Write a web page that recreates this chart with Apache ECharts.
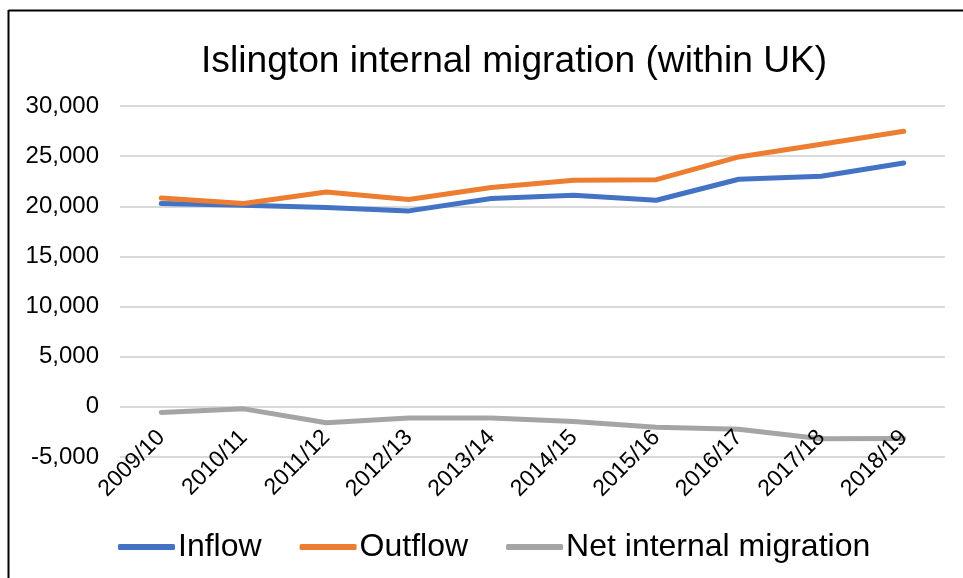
<!DOCTYPE html>
<html>
<head>
<meta charset="utf-8">
<script src="https://cdn.jsdelivr.net/npm/echarts@6/dist/echarts.min.js"></script>
<style>html,body{margin:0;padding:0;background:#fff;}#c{width:963px;height:578px;}</style>
</head>
<body>
<div id="c"></div>
<script>
var categories = ['2009/10','2010/11','2011/12','2012/13','2013/14','2014/15','2015/16','2016/17','2017/18','2018/19'];
var inflow  = [20270, 20100, 19870, 19540, 20770, 21100, 20600, 22700, 23000, 24320];
var outflow = [20830, 20270, 21430, 20670, 21870, 22600, 22650, 24920, 26180, 27480];
var netMigration = [-560, -200, -1580, -1120, -1100, -1450, -2030, -2230, -3170, -3160];
var yTicks = {min: -5000, max: 30000, interval: 5000};

var chart = echarts.init(document.getElementById('c'), null, {renderer: 'canvas'});
var font = '"Liberation Sans", Arial, sans-serif';
function mk(name, data, color) {
  return {name: name, type: 'line', data: data, showSymbol: false, symbol: 'none', z: 2,
    lineStyle: {color: color, width: 5, cap: 'round', join: 'round'}, itemStyle: {color: color}};
}
chart.setOption({
  animation: false,
  backgroundColor: '#fff',
  title: {text: 'Islington internal migration (within UK)', left: 196, top: 38,
    textStyle: {fontFamily: font, fontSize: 37.2, fontWeight: 'normal', color: '#000'}},
  grid: {left: 120, right: 18, top: 106, bottom: 121},
  legend: {left: 113, top: 526, itemWidth: 57, itemHeight: 6, itemGap: 38, icon: 'roundRect',
    textStyle: {fontFamily: font, fontSize: 32, color: '#000', padding: [0,0,0,-2]}},
  xAxis: {type: 'category', data: categories, boundaryGap: true, position: 'bottom', offset: -50, z: 10,
    axisLine: {show: false, onZero: false}, axisTick: {show: false},
    axisLabel: {rotate: 45, margin: 27, fontFamily: font, fontSize: 23, color: '#000'}},
  yAxis: {type: 'value', min: yTicks.min, max: yTicks.max, interval: yTicks.interval,
    axisLine: {show: false}, axisTick: {show: false},
    splitLine: {lineStyle: {color: '#d9d9d9', width: 2}},
    axisLabel: {margin: 21, fontFamily: font, fontSize: 24, color: '#000',
      formatter: function (v) { return v.toLocaleString('en-US'); }}},
  graphic: [
    {type: 'line', shape: {x1: 8.5, y1: 10.5, x2: 963, y2: 10.5}, style: {stroke: '#000', lineWidth: 2}},
    {type: 'line', shape: {x1: 8.5, y1: 10, x2: 8.5, y2: 578}, style: {stroke: '#000', lineWidth: 2}}
  ],
  series: [mk('Inflow', inflow, '#4472C4'), mk('Outflow', outflow, '#ED7D31'), mk('Net internal migration', netMigration, '#A5A5A5')]
});
</script>
</body>
</html>
